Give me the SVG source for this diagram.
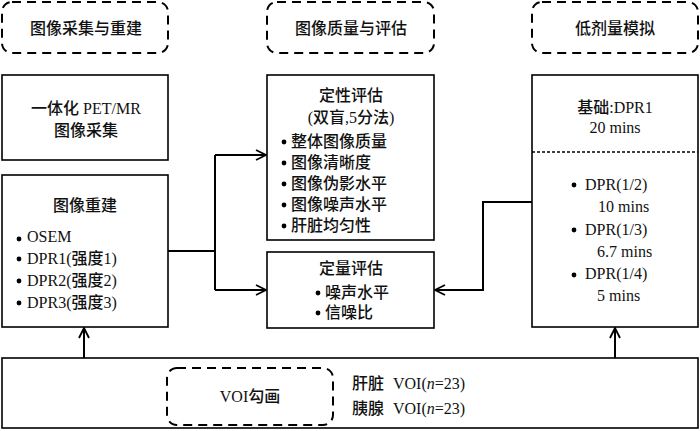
<svg xmlns="http://www.w3.org/2000/svg" width="700" height="431" viewBox="0 0 700 431">
<defs>
<marker id="arr" viewBox="0 0 12 12" refX="11" refY="6" markerWidth="12" markerHeight="12" markerUnits="userSpaceOnUse" orient="auto">
<path d="M1,1 L11,6 L1,11" fill="none" stroke="#000" stroke-width="1.8"/>
</marker>
<style>
.box{fill:#fff;stroke:#000;stroke-width:1.6}
.dash{fill:#fff;stroke:#000;stroke-width:2;stroke-dasharray:9,6}
.t{font-family:"Liberation Serif","Noto Sans CJK SC",serif;font-size:16px;fill:#111}
.z{font-weight:500}
.c{text-anchor:middle}
.ln{fill:none;stroke:#000;stroke-width:2}
.dot{fill:#000}
</style>
</defs>
<g id="hdr1"><rect class="dash" x="2" y="2" width="166" height="51" rx="10"/><text class="t c z" x="86" y="34">图像采集与重建</text></g>
<g id="hdr2"><rect class="dash" x="267" y="2" width="167" height="51" rx="10"/><text class="t c z" x="351" y="34">图像质量与评估</text></g>
<g id="hdr3"><rect class="dash" x="532" y="2" width="166" height="51" rx="10"/><text class="t c z" x="615" y="34">低剂量模拟</text></g>
<g id="acq"><rect class="box" x="2" y="75" width="166" height="85"/><text class="t c" x="86" y="114"><tspan class="z">一体化</tspan> PET/MR</text><text class="t c z" x="86" y="136">图像采集</text></g>
<g id="recon"><rect class="box" x="2" y="175" width="166" height="152"/>
<text class="t c z" x="85" y="211">图像重建</text>
<circle class="dot" cx="19" cy="239" r="2.4"/><text class="t" x="27" y="242">OSEM</text>
<circle class="dot" cx="19" cy="259" r="2.4"/><text class="t" x="27" y="264">DPR1(<tspan class="z">强度</tspan>1)</text>
<circle class="dot" cx="19" cy="281" r="2.4"/><text class="t" x="27" y="286">DPR2(<tspan class="z">强度</tspan>2)</text>
<circle class="dot" cx="19" cy="303" r="2.4"/><text class="t" x="27" y="308">DPR3(<tspan class="z">强度</tspan>3)</text>
</g>
<g id="qual"><rect class="box" x="267" y="75" width="167" height="165"/>
<text class="t c z" x="351" y="101">定性评估</text>
<text class="t c" x="351" y="123">(<tspan class="z">双盲</tspan>,5<tspan class="z">分法</tspan>)</text>
<circle class="dot" cx="284" cy="142" r="2.4"/><text class="t z" x="291" y="147">整体图像质量</text>
<circle class="dot" cx="284" cy="163" r="2.4"/><text class="t z" x="291" y="168">图像清晰度</text>
<circle class="dot" cx="284" cy="184" r="2.4"/><text class="t z" x="291" y="189">图像伪影水平</text>
<circle class="dot" cx="284" cy="205" r="2.4"/><text class="t z" x="291" y="210">图像噪声水平</text>
<circle class="dot" cx="284" cy="226" r="2.4"/><text class="t z" x="291" y="231">肝脏均匀性</text>
</g>
<g id="quant"><rect class="box" x="267" y="252" width="167" height="76"/>
<text class="t c z" x="351" y="274">定量评估</text>
<circle class="dot" cx="318" cy="293" r="2.4"/><text class="t z" x="325" y="298">噪声水平</text>
<circle class="dot" cx="318" cy="313" r="2.4"/><text class="t z" x="325" y="318">信噪比</text>
</g>
<g id="lowdose"><rect class="box" x="532" y="75" width="166" height="252"/>
<text class="t c" x="615" y="113"><tspan class="z">基础</tspan>:DPR1</text>
<text class="t c" x="615" y="133">20 mins</text>
<line x1="532" y1="152" x2="698" y2="152" stroke="#000" stroke-width="1.6" stroke-dasharray="3,2"/>
<circle class="dot" cx="574" cy="185" r="2.4"/><text class="t" x="585" y="190">DPR(1/2)</text>
<text class="t" x="598" y="212">10 mins</text>
<circle class="dot" cx="574" cy="230" r="2.4"/><text class="t" x="585" y="235">DPR(1/3)</text>
<text class="t" x="597" y="257">6.7 mins</text>
<circle class="dot" cx="574" cy="275" r="2.4"/><text class="t" x="585" y="279">DPR(1/4)</text>
<text class="t" x="597" y="301">5 mins</text>
</g>
<g id="voi"><rect class="box" x="2" y="358" width="696" height="70"/>
<rect class="dash" x="167" y="368" width="166" height="57" rx="10"/>
<text class="t c" x="250" y="402">VOI<tspan class="z">勾画</tspan></text>
<text class="t" x="352" y="389"><tspan class="z">肝脏</tspan><tspan x="393">VOI(</tspan><tspan font-style="italic">n</tspan>=23)</text>
<text class="t" x="352" y="414"><tspan class="z">胰腺</tspan><tspan x="393">VOI(</tspan><tspan font-style="italic">n</tspan>=23)</text>
</g>
<g id="connectors">
<path class="ln" d="M168,251 H215 M215,155 V290" />
<path class="ln" d="M215,155 H266" marker-end="url(#arr)"/>
<path class="ln" d="M215,290 H266" marker-end="url(#arr)"/>
<path class="ln" d="M532,202 H483 V290 H435" marker-end="url(#arr)"/>
<path class="ln" d="M84,358 V328" marker-end="url(#arr)"/>
<path class="ln" d="M615,358 V328" marker-end="url(#arr)"/>
</g>
</svg>
